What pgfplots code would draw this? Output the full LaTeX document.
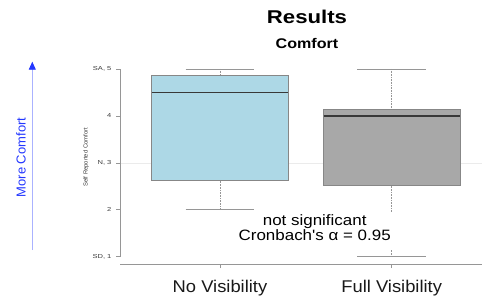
\documentclass[border=0pt]{standalone}
\usepackage{fontspec}
\setmainfont{Liberation Sans}
\usepackage{pgfplots}
\pgfplotsset{compat=1.18}
\usepgfplotslibrary{statistics}
\usetikzlibrary{arrows.meta}
\definecolor{boxblue}{RGB}{173,216,230}
\definecolor{boxgray}{RGB}{168,168,168}
\definecolor{edgegray}{RGB}{135,135,135}
\definecolor{axgray}{RGB}{150,150,150}
\definecolor{arrowblue}{RGB}{170,178,255}
\definecolor{textblue}{RGB}{35,55,255}
\definecolor{ticktext}{RGB}{60,60,60}
\pgfplotsset{
  boxplot/draw/lower whisker/.code={%
    \draw[axgray, densely dotted, line width=0.6pt]
      (boxplot cs:\pgfplotsboxplotvalue{lower whisker}) --
      (boxplot cs:\pgfplotsboxplotvalue{lower quartile});
    \draw[axgray, line width=0.7pt]
      (boxplot whisker cs:\pgfplotsboxplotvalue{lower whisker},0) --
      (boxplot whisker cs:\pgfplotsboxplotvalue{lower whisker},1);
  },
  boxplot/draw/upper whisker/.code={%
    \draw[axgray, densely dotted, line width=0.6pt]
      (boxplot cs:\pgfplotsboxplotvalue{upper whisker}) --
      (boxplot cs:\pgfplotsboxplotvalue{upper quartile});
    \draw[axgray, line width=0.7pt]
      (boxplot whisker cs:\pgfplotsboxplotvalue{upper whisker},0) --
      (boxplot whisker cs:\pgfplotsboxplotvalue{upper whisker},1);
  },
}
\begin{document}
\begin{tikzpicture}[x=1pt,y=1pt]
\path[use as bounding box] (0,0) rectangle (482,298);
\begin{axis}[
  at={(120pt,34pt)}, anchor=south west,
  scale only axis, width=362pt, height=202pt,
  xmin=0.4176, xmax=2.526, ymin=0.844, ymax=5.149,
  clip=false,
  axis x line*=bottom, axis y line*=left,
  axis line style={draw=none},
  boxplot/draw direction=y,
  xtick={1,2}, xticklabels={No Visibility, Full Visibility},
  ytick={1,2,3,4,5}, yticklabels={{SD, 1},2,{N, 3},4,{SA, 5}},
  tick align=outside, major tick length=4pt,
  tick style={draw=axgray, line width=0.6pt},
  xticklabel style={font=\fontsize{17}{20}\selectfont, text=black!90, xscale=1.08, anchor=base, yshift=-24.3pt},
  yticklabel style={font=\fontsize{5.8}{7}\selectfont, text=ticktext, xscale=1.3, anchor=east},
  boxplot/every median/.style={draw=black!78, line width=1.2pt},
]
\draw[black!8, line width=0.6pt] (axis cs:0.4176,3) -- (axis cs:2.526,3);
\draw[axgray, line width=0.7pt] (axis cs:0.4176,1) -- (axis cs:0.4176,5);
\draw[axgray, line width=0.7pt] (axis cs:0.4176,0.844) -- (axis cs:2.526,0.844);
\addplot[draw=edgegray, line width=0.7pt,
  boxplot/every box/.style={fill=boxblue, draw=edgegray},
  boxplot prepared={draw position=1, median=4.5, upper quartile=4.87,
    lower quartile=2.62, upper whisker=5, lower whisker=2,
    box extend=0.794, whisker extend=0.4}] coordinates {};
\addplot[draw=edgegray, line width=0.7pt,
  boxplot/every box/.style={fill=boxgray, draw=edgegray},
  boxplot prepared={draw position=2, median=4.0, upper quartile=4.13,
    lower quartile=2.51, upper whisker=5, lower whisker=1,
    box extend=0.794, whisker extend=0.4}] coordinates {};
\end{axis}
\node[anchor=base, font=\fontsize{18.5}{22}\selectfont\bfseries, xscale=1.2] at (307,274) {Results};
\node[anchor=base, font=\fontsize{14}{17}\selectfont\bfseries, xscale=1.15] at (307,249) {Comfort};
\node[rotate=90, font=\fontsize{5.9}{7}\selectfont, text=ticktext] at (86,140.7) {Self Reported Comfort};
\node[rotate=90, font=\fontsize{13}{15}\selectfont, text=textblue] at (21,140.5) {More Comfort};
\draw[arrowblue, line width=0.9pt, -{Triangle[length=8pt, width=7pt, color=textblue]}] (32.3,48) -- (32.3,236.3);
\fill[white] (237,48) rectangle (395,84.7);
\node[anchor=base, font=\fontsize{15}{17}\selectfont, xscale=1.13] at (314.7,73) {not significant};
\node[anchor=base, font=\fontsize{15}{17}\selectfont, xscale=1.13] at (314.7,57.3) {Cronbach\textquotesingle s α = 0.95};
\end{tikzpicture}
\end{document}
